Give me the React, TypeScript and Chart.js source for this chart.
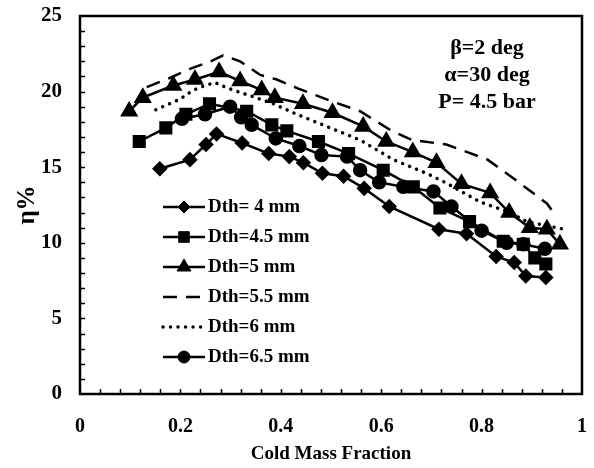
import React, { useEffect, useRef } from "react";
import { Chart, registerables } from "chart.js";
import { drawPoint } from "chart.js/helpers";

Chart.register(...registerables);

// ---- data ----
const dth4X = [0.159, 0.219, 0.251, 0.272, 0.323, 0.376, 0.417, 0.445, 0.483, 0.525, 0.566, 0.616, 0.715, 0.770, 0.829, 0.865, 0.888, 0.928];
const dth4Y = [14.9, 15.5, 16.5, 17.2, 16.6, 15.9, 15.7, 15.3, 14.6, 14.4, 13.6, 12.4, 10.9, 10.6, 9.1, 8.7, 7.8, 7.7];

const dth45X = [0.118, 0.171, 0.211, 0.258, 0.332, 0.382, 0.412, 0.475, 0.535, 0.604, 0.664, 0.717, 0.776, 0.843, 0.883, 0.906, 0.928];
const dth45Y = [16.7, 17.6, 18.5, 19.2, 18.7, 17.8, 17.4, 16.7, 15.9, 14.8, 13.7, 12.3, 11.4, 10.1, 9.9, 9.0, 8.6];

const dth5X = [0.098, 0.125, 0.186, 0.229, 0.277, 0.319, 0.362, 0.388, 0.444, 0.503, 0.564, 0.610, 0.663, 0.710, 0.760, 0.817, 0.855, 0.896, 0.930, 0.956];
const dth5Y = [18.7, 19.6, 20.4, 20.8, 21.3, 20.7, 20.1, 19.6, 19.2, 18.6, 17.7, 16.7, 16.0, 15.3, 13.9, 13.3, 12.0, 11.0, 10.9, 9.9];

const dth55X = [0.133, 0.179, 0.219, 0.26, 0.285, 0.319, 0.359, 0.392, 0.435, 0.498, 0.558, 0.621, 0.661, 0.730, 0.812, 0.870, 0.930, 0.950];
const dth55Y = [20.3, 20.9, 21.5, 22.0, 22.4, 22.0, 21.1, 20.8, 20.2, 19.4, 18.7, 17.4, 16.8, 16.5, 15.5, 14.1, 12.6, 11.7];

const dth6X = [0.151, 0.199, 0.226, 0.249, 0.269, 0.282, 0.305, 0.342, 0.385, 0.425, 0.491, 0.558, 0.624, 0.690, 0.727, 0.797, 0.857, 0.890, 0.964];
const dth6Y = [18.8, 19.5, 20.1, 20.4, 20.6, 20.4, 20.1, 19.7, 19.2, 18.6, 17.7, 16.8, 15.5, 14.6, 14.0, 12.7, 12.0, 11.4, 10.9];

const dth65X = [0.203, 0.249, 0.299, 0.321, 0.342, 0.390, 0.437, 0.481, 0.532, 0.558, 0.596, 0.644, 0.704, 0.740, 0.800, 0.850, 0.883, 0.926];
const dth65Y = [18.2, 18.5, 19.0, 18.3, 17.8, 16.9, 16.4, 15.8, 15.7, 14.8, 14.0, 13.7, 13.4, 12.4, 10.8, 10.0, 9.9, 9.6];

const seriesLabels = ["Dth= 4 mm", "Dth=4.5 mm", "Dth=5 mm", "Dth=5.5 mm", "Dth=6 mm", "Dth=6.5 mm"];
const annotationLines = ["\u03b2=2 deg", "\u03b1=30 deg", "P= 4.5 bar"];
const xTitle = "Cold Mass Fraction";
const yTitle = "\u03b7%";
const xMin = 0, xMax = 1, xStep = 0.2, xMinorStep = 0.04;
const yMin = 0, yMax = 25, yStep = 5, yMinorStep = 1;

const FONT = '"Liberation Serif", "Times New Roman", serif';

const toPts = (xs: number[], ys: number[]) => xs.map((x, i) => ({ x, y: ys[i] }));

const framePlugin = {
  id: "frame",
  beforeDatasetsDraw(chart: any) {
    const { ctx, chartArea, scales } = chart;
    const { left, right, top, bottom } = chartArea;
    ctx.save();
    ctx.strokeStyle = "#000";
    ctx.lineWidth = 1.5;
    ctx.beginPath();
    const nx = Math.round((xMax - xMin) / xMinorStep);
    for (let i = 1; i < nx; i++) {
      const px = Math.round(scales.x.getPixelForValue(xMin + i * xMinorStep)) + 0.5;
      ctx.moveTo(px, bottom);
      ctx.lineTo(px, bottom - 5);
    }
    const ny = Math.round((yMax - yMin) / yMinorStep);
    for (let i = 1; i < ny; i++) {
      const py = Math.round(scales.y.getPixelForValue(yMin + i * yMinorStep)) + 0.5;
      ctx.moveTo(left, py);
      ctx.lineTo(left + 5, py);
    }
    ctx.stroke();
    ctx.lineWidth = 2.5;
    ctx.strokeRect(left, top, right - left, bottom - top);
    ctx.restore();
  },
  afterDatasetsDraw(chart: any) {
    const { ctx, chartArea } = chart;
    const { left, right, top } = chartArea;
    ctx.save();
    // annotation
    ctx.fillStyle = "#000";
    ctx.font = `bold 22px ${FONT}`;
    ctx.textAlign = "center";
    ctx.textBaseline = "middle";
    annotationLines.forEach((t, i) => {
      ctx.fillText(t, right - 95, top + 32 + i * 27);
    });
    // legend
    ctx.font = `bold 19px ${FONT}`;
    ctx.textAlign = "left";
    chart.data.datasets.forEach((ds: any, i: number) => {
      const y = top + 191 + i * 30;
      const x0 = left + 83, x1 = left + 125;
      ctx.save();
      ctx.strokeStyle = "#000";
      ctx.lineWidth = ds.borderWidth;
      ctx.lineCap = ds.borderCapStyle || "butt";
      ctx.setLineDash(ds.borderDash || []);
      ctx.beginPath();
      ctx.moveTo(x0, y);
      ctx.lineTo(x1, y);
      ctx.stroke();
      ctx.restore();
      if (ds.pointRadius > 0) {
        ctx.save();
        ctx.fillStyle = "#000";
        ctx.strokeStyle = "#000";
        ctx.lineWidth = 1;
        drawPoint(ctx, { pointStyle: ds.pointStyle, radius: ds.pointRadius, rotation: 0, borderWidth: 1 }, (x0 + x1) / 2, y);
        ctx.restore();
      }
      ctx.fillStyle = "#000";
      ctx.fillText(ds.label, x1 + 3, y);
    });
    ctx.restore();
  },
};

export default function App() {
  const ref = useRef<HTMLCanvasElement>(null);
  useEffect(() => {
    if (!ref.current) return;
    const base = {
      borderColor: "#000",
      backgroundColor: "#000",
      pointBorderColor: "#000",
      pointBackgroundColor: "#000",
      borderWidth: 2.5,
      tension: 0,
      showLine: true,
      fill: false,
    };
    const chart = new Chart(ref.current, {
      type: "scatter",
      data: {
        datasets: [
          { ...base, label: seriesLabels[0], data: toPts(dth4X, dth4Y), pointStyle: "rectRot", pointRadius: 6 },
          { ...base, label: seriesLabels[1], data: toPts(dth45X, dth45Y), pointStyle: "rect", pointRadius: 7.5 },
          { ...base, label: seriesLabels[2], data: toPts(dth5X, dth5Y), pointStyle: "triangle", pointRadius: 8 },
          { ...base, label: seriesLabels[3], data: toPts(dth55X, dth55Y), pointStyle: "circle", pointRadius: 0, borderDash: [14, 9] },
          { ...base, label: seriesLabels[4], data: toPts(dth6X, dth6Y), pointStyle: "circle", pointRadius: 0, borderWidth: 3.5, borderDash: [0.01, 7.5], borderCapStyle: "round" },
          { ...base, label: seriesLabels[5], data: toPts(dth65X, dth65Y), pointStyle: "circle", pointRadius: 6 },
        ] as any,
      },
      options: {
        animation: false,
        responsive: false,
        maintainAspectRatio: false,
        layout: { padding: { top: 16, right: 12, left: 0, bottom: 0 } },
        plugins: { legend: { display: false }, tooltip: { enabled: false } },
        scales: {
          x: {
            type: "linear",
            min: xMin,
            max: xMax,
            grid: { display: false, drawTicks: false },
            border: { display: false },
            ticks: {
              stepSize: xStep,
              padding: 21,
              color: "#000",
              font: { family: FONT, size: 20, weight: "bold" },
              callback: (v: any) => String(Number((+v).toFixed(2))),
            },
            title: { display: true, text: xTitle, color: "#000", padding: { top: 0, bottom: 3 }, font: { family: FONT, size: 19, weight: "bold" } },
            afterFit: (s: any) => { s.height = 74; s.paddingLeft = 0; s.paddingRight = 0; },
          },
          y: {
            type: "linear",
            min: yMin,
            max: yMax,
            grid: { display: false, drawTicks: false },
            border: { display: false },
            ticks: { stepSize: yStep, padding: 18, color: "#000", font: { family: FONT, size: 21, weight: "bold" } },
            title: { display: true, text: yTitle, color: "#000", padding: { top: 13, bottom: 0 }, font: { family: FONT, size: 25, weight: "bold" } },
            afterFit: (s: any) => { s.width = 80; s.paddingTop = 0; s.paddingBottom = 0; },
          },
        },
      } as any,
      plugins: [framePlugin],
    });
    return () => chart.destroy();
  }, []);
  return (
    <div style={{ position: "fixed", left: 0, top: 0, width: 594, height: 468, background: "#fff" }}>
      <canvas ref={ref} width={594} height={468} style={{ width: 594, height: 468, display: "block" }} />
    </div>
  );
}
